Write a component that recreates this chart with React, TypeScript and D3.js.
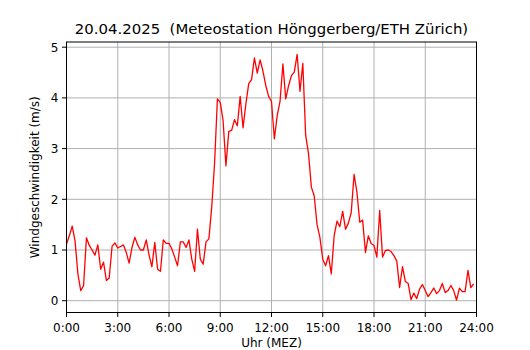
import React from "react";
import * as d3 from "d3";

// wind speed (m/s), one value every 10 minutes starting at 0:00
const windSpeed = [
  1.12, 1.28, 1.47, 1.18, 0.53, 0.2, 0.3, 1.24, 1.09, 1.0, 0.9, 1.1,
  0.62, 0.76, 0.4, 0.45, 1.07, 1.14, 1.04, 1.07, 1.1, 0.95, 0.74, 1.05,
  1.25, 1.1, 1.0, 1.0, 1.2, 0.9, 0.67, 1.15, 0.62, 0.58, 1.2, 1.13,
  1.13, 1.02, 0.86, 0.69, 1.16, 1.16, 1.05, 1.2, 0.82, 0.58, 1.41, 0.82,
  0.72, 1.16, 1.22, 1.84, 2.7, 3.98, 3.91, 3.55, 2.66, 3.34, 3.36, 3.57,
  3.45, 4.03, 3.41, 3.88, 4.28, 4.36, 4.79, 4.49, 4.75, 4.53, 4.24, 4.03,
  3.93, 3.19, 3.65, 3.93, 4.67, 3.98, 4.24, 4.44, 4.51, 4.86, 4.13, 4.68,
  3.26, 2.9, 2.24, 2.07, 1.5, 1.25, 0.82, 0.69, 0.89, 0.53, 1.28, 1.57,
  1.46, 1.76, 1.41, 1.53, 1.74, 2.49, 2.14, 1.55, 1.59, 0.95, 1.28, 1.13,
  1.09, 0.86, 1.78, 0.86, 0.99, 1.0, 0.97, 0.89, 0.78, 0.26, 0.67, 0.38,
  0.34, 0.02, 0.15, 0.04, 0.23, 0.32, 0.2, 0.08, 0.16, 0.25, 0.14, 0.2,
  0.34, 0.16, 0.2, 0.3, 0.2, 0.01, 0.25, 0.18, 0.18, 0.6, 0.26, 0.33,
];
const stepMinutes = 10;

const xTicks = [0, 3, 6, 9, 12, 15, 18, 21, 24];
const xTickLabels = ["0:00", "3:00", "6:00", "9:00", "12:00", "15:00", "18:00", "21:00", "24:00"];
const yTicks = [0, 1, 2, 3, 4, 5];

const title = "20.04.2025  (Meteostation Hönggerberg/ETH Zürich)";
const xLabel = "Uhr (MEZ)";
const yLabel = "Windgeschwindigkeit (m/s)";

export default function App() {
  const W = 530, H = 350;
  const m = { left: 66.5, right: 476.5, top: 42, bottom: 312.5 };
  const font = "'DejaVu Sans', sans-serif";

  const pts = windSpeed.map((v, i) => ({ h: (i * stepMinutes) / 60, v }));
  const vmin = d3.min(windSpeed) as number;
  const vmax = d3.max(windSpeed) as number;
  const pad = (vmax - vmin) * 0.05;

  const x = d3.scaleLinear().domain([0, 24]).range([m.left, m.right]);
  const y = d3.scaleLinear().domain([vmin - pad, vmax + pad]).range([m.bottom, m.top]);

  const line = d3.line<{ h: number; v: number }>().x(d => x(d.h)).y(d => y(d.v));

  return (
    <svg width={W} height={H} style={{ position: "fixed", left: 0, top: 0, background: "#fff" }} fontFamily={font}>
      <rect x={0} y={0} width={W} height={H} fill="#fff" />
      {/* grid */}
      {xTicks.map(t => (
        <line key={"gx" + t} x1={x(t)} x2={x(t)} y1={m.top} y2={m.bottom} stroke="#b0b0b0" strokeWidth={1} />
      ))}
      {yTicks.map(t => (
        <line key={"gy" + t} x1={m.left} x2={m.right} y1={y(t)} y2={y(t)} stroke="#b0b0b0" strokeWidth={1} />
      ))}
      <path d={line(pts) || ""} fill="none" stroke="#ff0000" strokeWidth={1.3} strokeLinejoin="round" />
      {/* frame */}
      <rect x={m.left} y={m.top} width={m.right - m.left} height={m.bottom - m.top} fill="none" stroke="#000" strokeWidth={1} />
      {/* x ticks */}
      {xTicks.map((t, i) => (
        <g key={"tx" + t}>
          <line x1={x(t)} x2={x(t)} y1={m.bottom} y2={m.bottom + 4.5} stroke="#000" strokeWidth={1} />
          <text x={x(t)} y={332} textAnchor="middle" fontSize={12} fill="#000">{xTickLabels[i]}</text>
        </g>
      ))}
      {/* y ticks */}
      {yTicks.map(t => (
        <g key={"ty" + t}>
          <line x1={m.left - 4.5} x2={m.left} y1={y(t)} y2={y(t)} stroke="#000" strokeWidth={1} />
          <text x={m.left - 8} y={y(t)} dy="0.36em" textAnchor="end" fontSize={12} fill="#000">{t}</text>
        </g>
      ))}
      <text x={(m.left + m.right) / 2} y={346.5} textAnchor="middle" fontSize={12} fill="#000">{xLabel}</text>
      <text transform={`translate(39,${(m.top + m.bottom) / 2}) rotate(-90)`} textAnchor="middle" fontSize={12} fill="#000">{yLabel}</text>
      <text x={(m.left + m.right) / 2} y={34} textAnchor="middle" fontSize={14.9} fill="#000" style={{ whiteSpace: "pre" }}>{title}</text>
    </svg>
  );
}
